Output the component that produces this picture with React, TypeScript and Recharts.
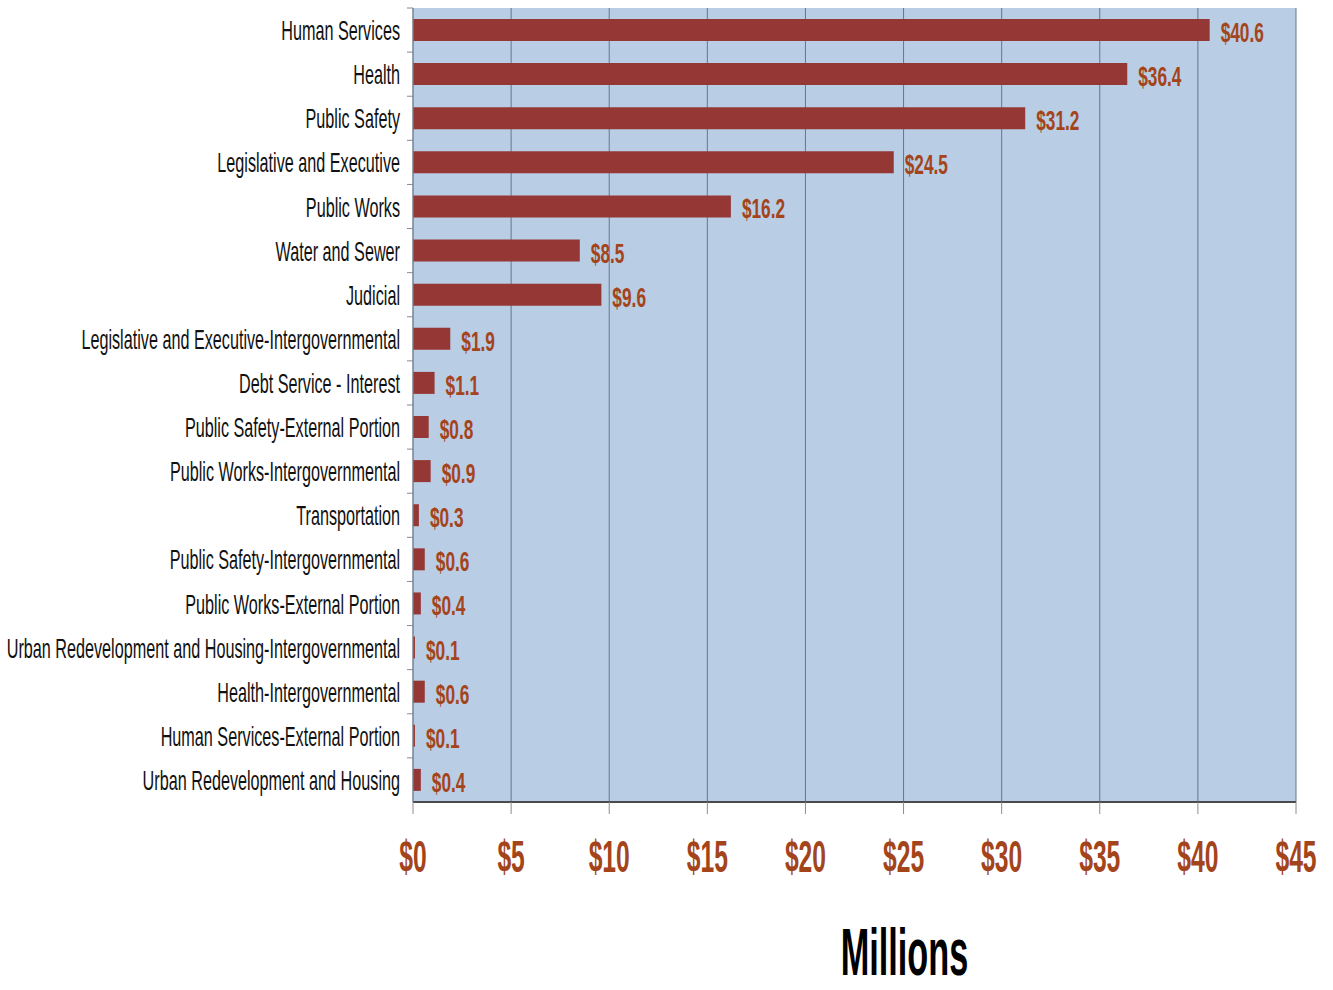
import React from "react";
import { BarChart, Bar, XAxis, YAxis, CartesianGrid, LabelList, Label } from "recharts";

const categories = [
  "Human Services",
  "Health",
  "Public Safety",
  "Legislative and Executive",
  "Public Works",
  "Water and Sewer",
  "Judicial",
  "Legislative and Executive-Intergovernmental",
  "Debt Service - Interest",
  "Public Safety-External Portion",
  "Public Works-Intergovernmental",
  "Transportation",
  "Public Safety-Intergovernmental",
  "Public Works-External Portion",
  "Urban Redevelopment and Housing-Intergovernmental",
  "Health-Intergovernmental",
  "Human Services-External Portion",
  "Urban Redevelopment and Housing",
];

const values = [40.6, 36.4, 31.2, 24.5, 16.2, 8.5, 9.6, 1.9, 1.1, 0.8, 0.9, 0.3, 0.6, 0.4, 0.1, 0.6, 0.1, 0.4];

const xTicks = [0, 5, 10, 15, 20, 25, 30, 35, 40, 45];

const data = categories.map((name, i) => ({ name, value: values[i] }));

const FONT = "'Liberation Sans', Arial, sans-serif";
const ORANGE = "#a4441a";

const CategoryTick = (props: any) => {
  const { x, y, payload } = props;
  const half = 794 / 18 / 2;
  return (
    <g>
      <line x1={x + 7} x2={x + 13} y1={y - half} y2={y - half} stroke="#7f8a99" strokeWidth={1} />
      <text
        x={0}
        y={0}
        transform={`translate(${x},${y + 10}) scale(0.6,1)`}
        textAnchor="end"
        fontFamily={FONT}
        fontSize={27}
        fill="#111"
      >
        {payload.value}
      </text>
    </g>
  );
};

const ValueTick = (props: any) => {
  const { x, y, payload } = props;
  return (
    <text
      x={0}
      y={0}
      transform={`translate(${x},${y + 56}) scale(0.56,1)`}
      textAnchor="middle"
      fontFamily={FONT}
      fontWeight="bold"
      fontSize={44}
      fill={ORANGE}
    >
      {`$${payload.value}`}
    </text>
  );
};

const ValueLabel = (props: any) => {
  const { x, y, width, height, value } = props;
  return (
    <text
      x={0}
      y={0}
      transform={`translate(${x + width + 11},${y + height / 2 + 12}) scale(0.64,1)`}
      textAnchor="start"
      fontFamily={FONT}
      fontWeight="bold"
      fontSize={27}
      fill={ORANGE}
    >
      {`$${value.toFixed(1)}`}
    </text>
  );
};

const TitleLabel = (props: any) => {
  const { viewBox } = props;
  const cx = viewBox.x + viewBox.width / 2 + 50;
  return (
    <text
      x={0}
      y={0}
      transform={`translate(${cx},${viewBox.y + 173}) scale(0.52,1)`}
      textAnchor="middle"
      fontFamily={FONT}
      fontWeight="bold"
      fontSize={66}
      fill="#000"
    >
      Millions
    </text>
  );
};

export default function App() {
  return (
    <div style={{ position: "absolute", left: 0, top: 0, width: 1333, height: 990, background: "#fff" }}>
      <BarChart
        width={1333}
        height={990}
        data={data}
        layout="vertical"
        margin={{ top: 8, right: 37, bottom: 0, left: 0 }}
        barSize={22}
      >
        <CartesianGrid horizontal={false} vertical={true} fill="#b9cde5" stroke="#66768c" strokeWidth={1} />
        <XAxis
          type="number"
          domain={[0, 45]}
          ticks={xTicks}
          interval={0}
          height={188}
          tickSize={12}
          tick={<ValueTick />}
          axisLine={{ stroke: "#4a4a4a", strokeWidth: 2 }}
          tickLine={{ stroke: "#8c8c8c" }}
        >
          <Label content={<TitleLabel />} />
        </XAxis>
        <YAxis
          type="category"
          dataKey="name"
          width={413}
          interval={0}
          tickSize={6}
          tickMargin={7}
          tickLine={false}
          axisLine={{ stroke: "#7f8a99" }}
          tick={<CategoryTick />}
        />
        <Bar dataKey="value" fill="#953735" isAnimationActive={false}>
          <LabelList dataKey="value" content={<ValueLabel />} />
        </Bar>
      </BarChart>
    </div>
  );
}
